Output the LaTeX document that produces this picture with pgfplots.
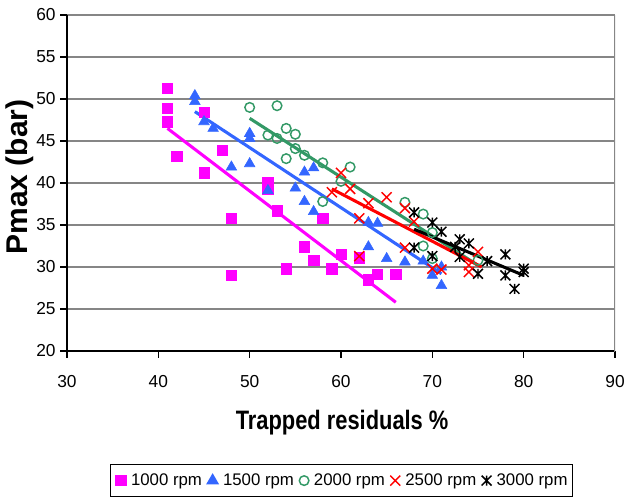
\documentclass[border=0pt]{standalone}
\usepackage{fontspec}
\setmainfont{Liberation Sans}
\usepackage{graphicx}
\usepackage{pgfplots}
\pgfplotsset{compat=1.18}
\definecolor{cmag}{HTML}{FF00FF}
\definecolor{cblue}{HTML}{3366FF}
\definecolor{cgreen}{HTML}{339966}
\definecolor{cred}{HTML}{FF0000}
\definecolor{gridgray}{HTML}{868686}
\pgfdeclareplotmark{xstar}{%
  \pgfpathmoveto{\pgfqpoint{-\pgfplotmarksize}{-\pgfplotmarksize}}%
  \pgfpathlineto{\pgfqpoint{\pgfplotmarksize}{\pgfplotmarksize}}%
  \pgfpathmoveto{\pgfqpoint{-\pgfplotmarksize}{\pgfplotmarksize}}%
  \pgfpathlineto{\pgfqpoint{\pgfplotmarksize}{-\pgfplotmarksize}}%
  \pgfpathmoveto{\pgfqpoint{0pt}{-\pgfplotmarksize}}%
  \pgfpathlineto{\pgfqpoint{0pt}{\pgfplotmarksize}}%
  \pgfusepathqstroke}
\begin{document}
\begin{tikzpicture}
\begin{axis}[
  scale only axis, width=411pt, height=252pt,
  xmin=30, xmax=90, ymin=20, ymax=60,
  xtick={30,40,...,90}, ytick={20,25,...,60},
  axis x line*=bottom, axis y line*=left,
  axis line style={black, line width=0.8pt},
  ymajorgrids, grid style={gridgray, line width=1.1pt},
  tick align=outside, major tick length=5pt,
  tick style={black, line width=0.8pt},
  /pgf/number format/assume math mode=true,
  ticklabel style={font=\fontsize{13}{15}\selectfont},
  xticklabel style={yshift=-10pt},
  xlabel={\scalebox{0.82}[1]{\bfseries Trapped residuals \%}},
  xlabel style={font=\fontsize{20}{22}\selectfont, at={(axis description cs:0.502,-0.214)}, anchor=center},
  ylabel={\bfseries Pmax (bar)},
  ylabel style={font=\fontsize{22.5}{24}\selectfont, at={(axis description cs:-0.0858,0.518)}, anchor=center},
  legend columns=5,
  legend style={at={(axis description cs:0.501,-0.3363)}, anchor=north, draw=black, line width=0.6pt,
    font=\fontsize{12.6}{14}\selectfont, inner xsep=4pt, inner ysep=5pt,
    nodes={inner xsep=0pt},
    /tikz/every odd column/.append style={column sep=3.8pt},
    /tikz/every even column/.append style={column sep=4pt}},
  legend image code/.code={\draw[#1, line width=1pt] plot coordinates {(0pt,0pt)};},
]
% trend lines
\addplot[cmag, line width=2.3pt, forget plot] coordinates {(41,46.5) (66,25.8)};
\addplot[cblue, line width=2.3pt, forget plot] coordinates {(44,48.5) (71,29.2)};
\addplot[cgreen, line width=2.3pt, forget plot] coordinates {(50,47.7) (75,30.2)};
\addplot[cred, line width=2.3pt, forget plot] coordinates {(59,39.3) (75.4,30.0)};
\addplot[black, line width=2.3pt, forget plot] coordinates {(68,34.5) (80,29.0)};
% data
\addplot[only marks, mark=square*, mark size=3.9pt, cmag, mark options={draw=cmag, fill=cmag}] coordinates {
(41,51.3) (41,48.9) (41,47.3) (42,43.2) (45,48.4) (45,41.2) (47,43.9) (48,35.8) (48,29.0)
(52,40.1) (52,39.3) (53,36.7) (54,29.8) (56,32.4) (57,30.8) (58,35.8) (59,29.8) (60,31.5)
(62,31.1) (63,28.5) (64,29.1) (66,29.1)};
\addlegendentry{1000 rpm}
\addplot[only marks, mark=triangle*, mark size=4.6pt, cblue, mark options={draw=cblue, fill=cblue}] coordinates {
(44,50.4) (44,49.7) (45,47.3) (46,46.5) (50,45.9) (50,45.3) (48,41.9) (50,42.3) (52,39.1)
(55,39.4) (56,41.3) (57,41.8) (56,37.8) (57,36.6) (63,35.3) (64,35.2) (63,32.4) (65,31.0)
(67,30.6) (69,30.7) (70,29.0) (71,30.0) (71,27.8)};
\addlegendentry{1500 rpm}
\addplot[only marks, mark=o, mark size=3.6pt, cgreen, mark options={line width=1.1pt}] coordinates {
(50,49.0) (53,49.2) (52,45.7) (53,45.3) (54,46.5) (55,45.8) (55,44.1) (54,42.9) (56,43.3)
(58,42.4) (61,41.9) (60,40.2) (58,37.8) (67,37.7) (69,36.3) (70,34.1) (69,32.5) (70,31.0)
(75,30.8)};
\addlegendentry{2000 rpm}
\addplot[only marks, mark=x, mark size=5.3pt, cred, mark options={line width=1.1pt}] coordinates {
(60,41.2) (61,39.3) (59,38.9) (63,37.6) (65,38.3) (62,35.8) (67,37.0) (68,35.4) (62,31.3)
(67,32.3) (70,29.8) (71,29.7) (74,30.2) (74,29.4) (75,31.8)};
\addlegendentry{2500 rpm}
\addplot[only marks, mark=xstar, mark size=3.7pt, black, mark options={line width=1.1pt}] coordinates {
(68,36.5) (70,35.3) (71,34.2) (68,32.3) (70,31.3) (72.5,32.4) (73,33.3) (74,32.8) (73,31.2)
(75,29.2) (76,30.7) (78,31.5) (78,29.0) (79,27.4) (80,29.8) (80,29.4)};
\addlegendentry{3000 rpm}
\draw[gridgray, line width=1.1pt] ([yshift=-5pt]rel axis cs:1,0) -- (rel axis cs:1,1);
\end{axis}
\pgfresetboundingbox
\path (-50.25pt,-108.75pt) rectangle (420.75pt,263.25pt);
\end{tikzpicture}
\end{document}
